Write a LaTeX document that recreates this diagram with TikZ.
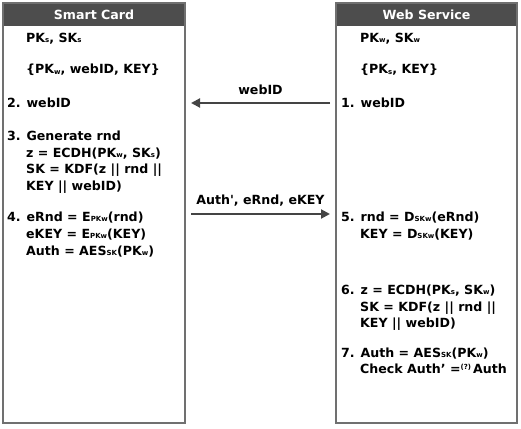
\documentclass[tikz,border=0pt]{standalone}
\usepackage{fontspec}
\setmainfont{DejaVu Sans}[BoldFont={DejaVu Sans Bold}]
\usetikzlibrary{arrows.meta}
\newcommand\mysub[1]{{\fontsize{7pt}{7pt}\selectfont\raisebox{-0.6pt}{#1}}}
\newcommand\mysup[1]{{\fontsize{7pt}{7pt}\selectfont\raisebox{4pt}{#1}}}
\definecolor{hdr}{HTML}{4D4D4D}
\definecolor{frame}{HTML}{707070}
\definecolor{arr}{HTML}{444444}
\tikzset{
  txt/.style={anchor=base west, inner sep=0pt, font=\bfseries\fontsize{12.6pt}{15pt}\selectfont},
  hdrtxt/.style={anchor=center, inner sep=0pt, text=white, font=\bfseries\fontsize{12.6pt}{15pt}\selectfont},
  lbl/.style={inner sep=0pt, font=\bfseries\fontsize{12.6pt}{15pt}\selectfont},
  box/.style={draw=frame, line width=1.5pt, fill=white},
  msg/.style={draw=arr, line width=2pt, -{Triangle[length=9pt,width=9pt]}}
}
\begin{document}
\begin{tikzpicture}[x=1pt,y=-1pt]
\useasboundingbox (0,0) rectangle (521,428);
% boxes
\draw[box] (3,3) rectangle (185,423);
\fill[hdr] (3,3) rectangle (185,26);
\draw[frame, line width=1.5pt] (3,3) rectangle (185,423);
\draw[box] (336,3) rectangle (517,423);
\fill[hdr] (336,3) rectangle (517,26);
\draw[frame, line width=1.5pt] (336,3) rectangle (517,423);
\node[hdrtxt] (hsc) at (94,15) {Smart Card};
\node[hdrtxt] (hws) at (426.5,15) {Web Service};
% smart card text
\node[txt] (l1) at (26,42) {PK\mysub{s}, SK\mysub{s}};
\node[txt] (l2) at (26,74) {\{PK\mysub{w}, webID, KEY\}};
\node[txt] (l3) at (7,107) {2. webID};
\node[txt] (l4) at (7,140) {3. Generate rnd};
\node[txt] (l5) at (26,157) {z = ECDH(PK\mysub{w}, SK\mysub{s})};
\node[txt] (l6) at (26,173) {SK = KDF(z || rnd ||};
\node[txt] (l7) at (26,190) {KEY || webID)};
\node[txt] (l8) at (7,221) {4. eRnd = E\mysub{PKw}(rnd)};
\node[txt] (l9) at (26,238) {eKEY = E\mysub{PKw}(KEY)};
\node[txt] (l10) at (26,255) {Auth = AES\mysub{SK}(PK\mysub{w})};
% web service text
\node[txt] (r1) at (360,42) {PK\mysub{w}, SK\mysub{w}};
\node[txt] (r2) at (360,74) {\{PK\mysub{s}, KEY\}};
\node[txt] (r3) at (341,107) {1. webID};
\node[txt] (r4) at (341,221) {5. rnd = D\mysub{SKw}(eRnd)};
\node[txt] (r5) at (360,238) {KEY = D\mysub{SKw}(KEY)};
\node[txt] (r6) at (341,294) {6. z = ECDH(PK\mysub{s}, SK\mysub{w})};
\node[txt] (r7) at (360,311) {SK = KDF(z || rnd ||};
\node[txt] (r8) at (360,327) {KEY || webID)};
\node[txt] (r9) at (341,357) {7. Auth = AES\mysub{SK}(PK\mysub{w})};
\node[txt] (r10) at (360,373) {Check Auth’ =\mysup{(?)}\,Auth};
% messages
\coordinate (a1s) at (330,103);
\coordinate (a1e) at (191,103);
\coordinate (a2s) at (191,214);
\coordinate (a2e) at (330,214);
\draw[msg] (a1s) -- (a1e) node[lbl, midway, above=7pt] (m1) {webID};
\draw[msg] (a2s) -- (a2e) node[lbl, midway, above=7pt] (m2) {Auth\textquotesingle, eRnd, eKEY};
\end{tikzpicture}
\end{document}
